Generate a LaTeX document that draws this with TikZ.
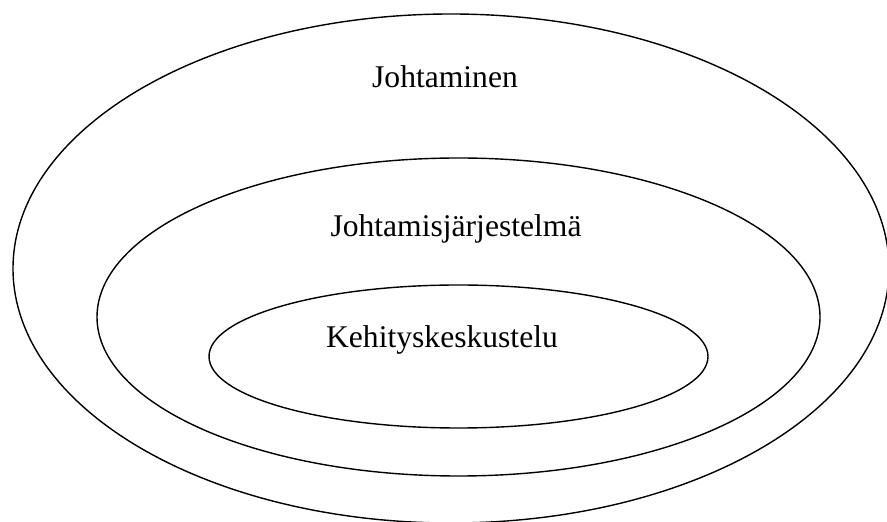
\documentclass[tikz,border=0pt]{standalone}
\usepackage{fontspec}
\setmainfont{Liberation Serif}
\usetikzlibrary{positioning}

\begin{document}
\begin{tikzpicture}[
  x=0.5pt, y=-0.5pt,
  font=\fontsize{15.8}{19}\selectfont,
  lbl/.style={anchor=base, inner sep=0pt},
  rim/.style={draw=black, line width=0.7pt}]
  \useasboundingbox (0,0) rectangle (887,522);
  % renkaat
  \draw[rim] (451,268.5) ellipse [x radius=438, y radius=254.5];
  \draw[rim] (458.5,317) ellipse [x radius=361.5, y radius=159];
  \draw[rim] (458.5,356.5) ellipse [x radius=249.5, y radius=71.5];
  % tekstit
  \node[lbl] (joh) at (445,88)  {Johtaminen};
  \node[lbl] (jjs) at (456,237) {Johtamisjärjestelmä};
  \node[lbl] (kks) at (442,348) {Kehityskeskustelu};
\end{tikzpicture}
\end{document}
